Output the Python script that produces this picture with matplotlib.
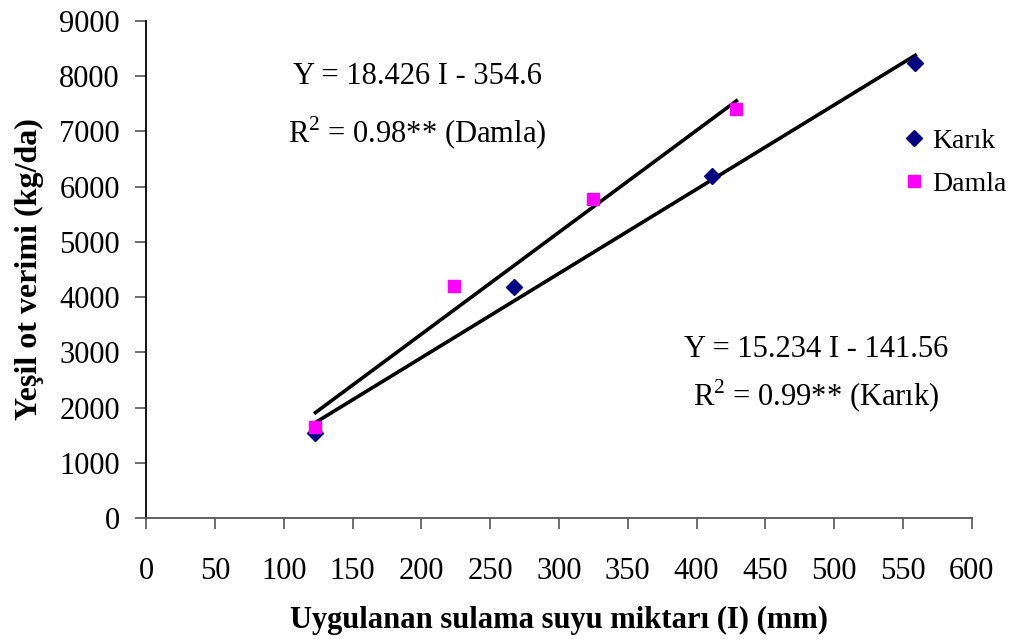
import numpy as np
import matplotlib
matplotlib.use('Agg')
import matplotlib.pyplot as plt

plt.rcParams['font.family'] = 'Liberation Serif'
plt.rcParams['mathtext.fontset'] = 'custom'
plt.rcParams['mathtext.rm'] = 'Liberation Serif'

# irrigation water applied (mm) and green forage yield (kg/da)
karik_x = [123, 267, 411, 559]
karik_y = [1550, 4190, 6190, 8240]
damla_x = [123, 224, 325, 429]
damla_y = [1646, 4207, 5775, 7397]

# fitted regressions: Y = a*I + b
karik_fit = (15.234, -141.56)
damla_fit = (18.426, -354.6)

x_ticks = list(range(0, 601, 50))
y_ticks = list(range(0, 9001, 1000))

fig = plt.figure(figsize=(10.13, 6.39), dpi=100)
ax = fig.add_axes([0.1444, 0.1889, 0.8148, 0.7787])

fs = 22
for xs, (a, b) in [(karik_x, karik_fit), (damla_x, damla_fit)]:
    xl = np.array([min(xs), max(xs)])
    ax.plot(xl, a * xl + b, color='black', lw=2.6, zorder=2)

ax.plot(karik_x, karik_y, 'D', color='#000080', ms=8.5, ls='none',
        label='Karık', zorder=3)
ax.plot(damla_x, damla_y, 's', color='#FF00FF', ms=8.5, ls='none',
        label='Damla', zorder=3)

ax.set_xlim(0, 600)
ax.set_ylim(0, 9000)
ax.set_xticks(x_ticks)
ax.set_yticks(y_ticks)
ax.tick_params(axis='x', direction='out', length=8, width=1.2,
               color='#555555', labelsize=fs, pad=20)
ax.tick_params(axis='y', direction='out', length=8, width=1.2,
               color='#555555', labelsize=fs, pad=11)
for s in ['top', 'right']:
    ax.spines[s].set_visible(False)
ax.spines['left'].set_color('black')
ax.spines['left'].set_linewidth(1.3)
ax.spines['bottom'].set_color('#555555')
ax.spines['bottom'].set_linewidth(1.3)

ax.set_xlabel('Uygulanan sulama suyu miktarı (I) (mm)', fontsize=fs,
              fontweight='bold', labelpad=14)
ax.set_ylabel('Yeşil ot verimi (kg/da)', fontsize=23, fontweight='bold',
              labelpad=11)

ax.text(197, 7990, 'Y = 18.426 I - 354.6', fontsize=fs, ha='center', va='center')
ax.text(197, 6970, 'R$^2$ = 0.98** (Damla)', fontsize=fs, ha='center', va='center')
ax.text(487, 3060, 'Y = 15.234 I - 141.56', fontsize=fs, ha='center', va='center')
ax.text(487, 2200, 'R$^2$ = 0.99** (Karık)', fontsize=fs, ha='center', va='center')

ax.legend(loc='center left', bbox_to_anchor=(0.900, 0.715), frameon=False,
          fontsize=20, handletextpad=0.15, labelspacing=0.62, borderaxespad=0,
          handlelength=1.0)

fig.savefig('out.png', dpi=100)
